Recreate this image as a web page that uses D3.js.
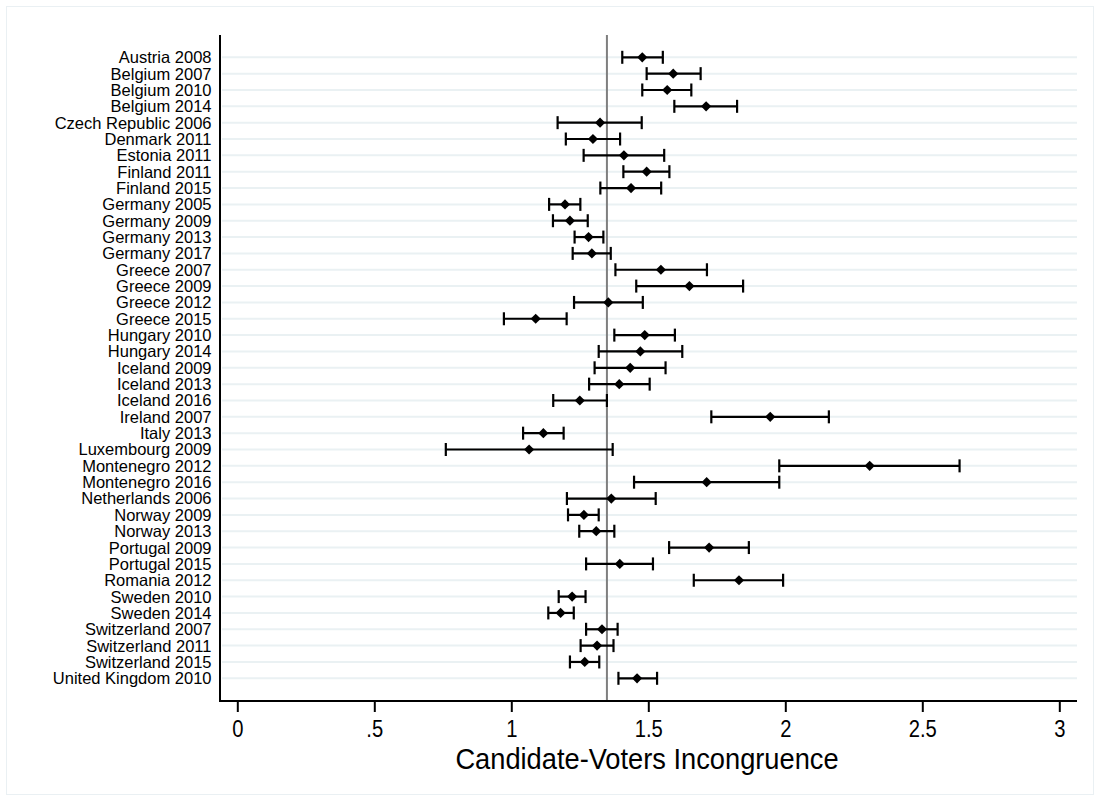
<!DOCTYPE html>
<html>
<head>
<meta charset="utf-8">
<script src="https://cdn.jsdelivr.net/npm/d3@7/dist/d3.min.js"></script>
<style>
  html, body { margin: 0; padding: 0; background: #ffffff; }
  svg { display: block; }
  text { font-family: "Liberation Sans", Arial, sans-serif; fill: #000; }
</style>
</head>
<body>
<svg id="chart" width="1094" height="801"></svg>
<script>
const categories = [
  "Austria 2008","Belgium 2007","Belgium 2010","Belgium 2014","Czech Republic 2006",
  "Denmark 2011","Estonia 2011","Finland 2011","Finland 2015","Germany 2005",
  "Germany 2009","Germany 2013","Germany 2017","Greece 2007","Greece 2009",
  "Greece 2012","Greece 2015","Hungary 2010","Hungary 2014","Iceland 2009",
  "Iceland 2013","Iceland 2016","Ireland 2007","Italy 2013","Luxembourg 2009",
  "Montenegro 2012","Montenegro 2016","Netherlands 2006","Norway 2009","Norway 2013",
  "Portugal 2009","Portugal 2015","Romania 2012","Sweden 2010","Sweden 2014",
  "Switzerland 2007","Switzerland 2011","Switzerland 2015","United Kingdom 2010"
];
const estimates = [
  1.478,1.591,1.569,1.711,1.324,
  1.298,1.411,1.494,1.437,1.196,
  1.214,1.282,1.294,1.546,1.650,
  1.354,1.089,1.487,1.471,1.434,
  1.394,1.250,1.945,1.117,1.065,
  2.308,1.713,1.365,1.265,1.310,
  1.722,1.396,1.831,1.222,1.180,
  1.331,1.313,1.268,1.459
];
const lower = [
  1.405,1.494,1.478,1.595,1.169,
  1.199,1.264,1.409,1.325,1.138,
  1.152,1.231,1.224,1.380,1.456,
  1.229,0.973,1.376,1.319,1.304,
  1.284,1.153,1.730,1.043,0.761,
  1.978,1.448,1.203,1.207,1.248,
  1.576,1.273,1.666,1.173,1.135,
  1.273,1.253,1.214,1.391
];
const upper = [
  1.553,1.691,1.657,1.824,1.476,
  1.397,1.558,1.577,1.547,1.252,
  1.279,1.336,1.363,1.714,1.846,
  1.480,1.202,1.597,1.624,1.563,
  1.505,1.349,2.159,1.191,1.370,
  2.636,1.978,1.527,1.319,1.376,
  1.867,1.517,1.992,1.271,1.228,
  1.388,1.373,1.321,1.532
];
const xTicks = [0, 0.5, 1, 1.5, 2, 2.5, 3];
const xTickLabels = ["0", ".5", "1", "1.5", "2", "2.5", "3"];
const referenceValue = 1.349;
const xTitle = "Candidate-Voters Incongruence";

const svg = d3.select("#chart");
const W = 1094, H = 801;

// outer frame
svg.append("rect").attr("x", 6.5).attr("y", 6.5).attr("width", W - 7).attr("height", H - 13)
  .attr("fill", "#ffffff").attr("stroke", "#eaf0f3").attr("stroke-width", 1);

const plot = { left: 220, right: 1077, top: 35, bottom: 701 };

const x = d3.scaleLinear().domain([0, 3]).range([237.3, 1059.3]);
const y = d3.scalePoint().domain(categories).range([57.3, 678.3]);

// gridlines
svg.append("g").selectAll("line").data(categories).join("line")
  .attr("x1", plot.left + 2).attr("x2", plot.right)
  .attr("y1", d => y(d)).attr("y2", d => y(d))
  .attr("stroke", "#eaf1f3").attr("stroke-width", 2);

// reference line
svg.append("line")
  .attr("x1", x(referenceValue)).attr("x2", x(referenceValue))
  .attr("y1", plot.top).attr("y2", plot.bottom)
  .attr("stroke", "#7f7f7f").attr("stroke-width", 2);

// error bars
const rows = categories.map((c, i) => ({ c, est: estimates[i], lo: lower[i], hi: upper[i] }));
const eg = svg.append("g").attr("stroke", "#000").attr("stroke-width", 2.2);
eg.selectAll("line.bar").data(rows).join("line").attr("class", "bar")
  .attr("x1", d => x(d.lo)).attr("x2", d => x(d.hi))
  .attr("y1", d => y(d.c)).attr("y2", d => y(d.c));
eg.selectAll("line.capL").data(rows).join("line").attr("class", "capL")
  .attr("x1", d => x(d.lo)).attr("x2", d => x(d.lo))
  .attr("y1", d => y(d.c) - 6.5).attr("y2", d => y(d.c) + 6.5);
eg.selectAll("line.capR").data(rows).join("line").attr("class", "capR")
  .attr("x1", d => x(d.hi)).attr("x2", d => x(d.hi))
  .attr("y1", d => y(d.c) - 6.5).attr("y2", d => y(d.c) + 6.5);

// diamonds
const diamond = d3.symbol().type(d3.symbolSquare).size(52);
svg.append("g").selectAll("path").data(rows).join("path")
  .attr("d", diamond)
  .attr("transform", d => `translate(${x(d.est)},${y(d.c)}) rotate(45)`)
  .attr("fill", "#000");

// y labels
svg.append("g").selectAll("text").data(categories).join("text")
  .attr("x", 211.5).attr("y", d => y(d)).attr("dy", "0.36em")
  .attr("text-anchor", "end").style("font-size", "16.5px")
  .text(d => d);

// left axis line
svg.append("line").attr("x1", plot.left).attr("x2", plot.left)
  .attr("y1", plot.top).attr("y2", plot.bottom + 0.5)
  .attr("stroke", "#000").attr("stroke-width", 2);

const xAxis = d3.axisBottom(x).tickValues(xTicks)
  .tickFormat((d, i) => xTickLabels[i]).tickSize(11).tickPadding(8).tickSizeOuter(0);
const gx = svg.append("g").attr("transform", `translate(0,${plot.bottom})`).call(xAxis);
gx.select(".domain").remove();
gx.selectAll(".tick line").attr("stroke", "#000").attr("stroke-width", 2);
gx.selectAll(".tick text")
  .style("font-family", '"Liberation Sans", Arial, sans-serif')
  .style("font-size", "23.5px").attr("fill", "#000")
  .attr("dy", "0.71em")
  .attr("transform", "scale(0.86,1)");

// bottom axis line
svg.append("line").attr("x1", plot.left - 1).attr("x2", plot.right)
  .attr("y1", plot.bottom).attr("y2", plot.bottom)
  .attr("stroke", "#000").attr("stroke-width", 2);

// x title
svg.append("text")
  .attr("transform", `translate(${(452 + 842) / 2},${768.5}) scale(0.94,1)`)
  .attr("text-anchor", "middle").style("font-size", "29px")
  .text(xTitle);
</script>
</body>
</html>
